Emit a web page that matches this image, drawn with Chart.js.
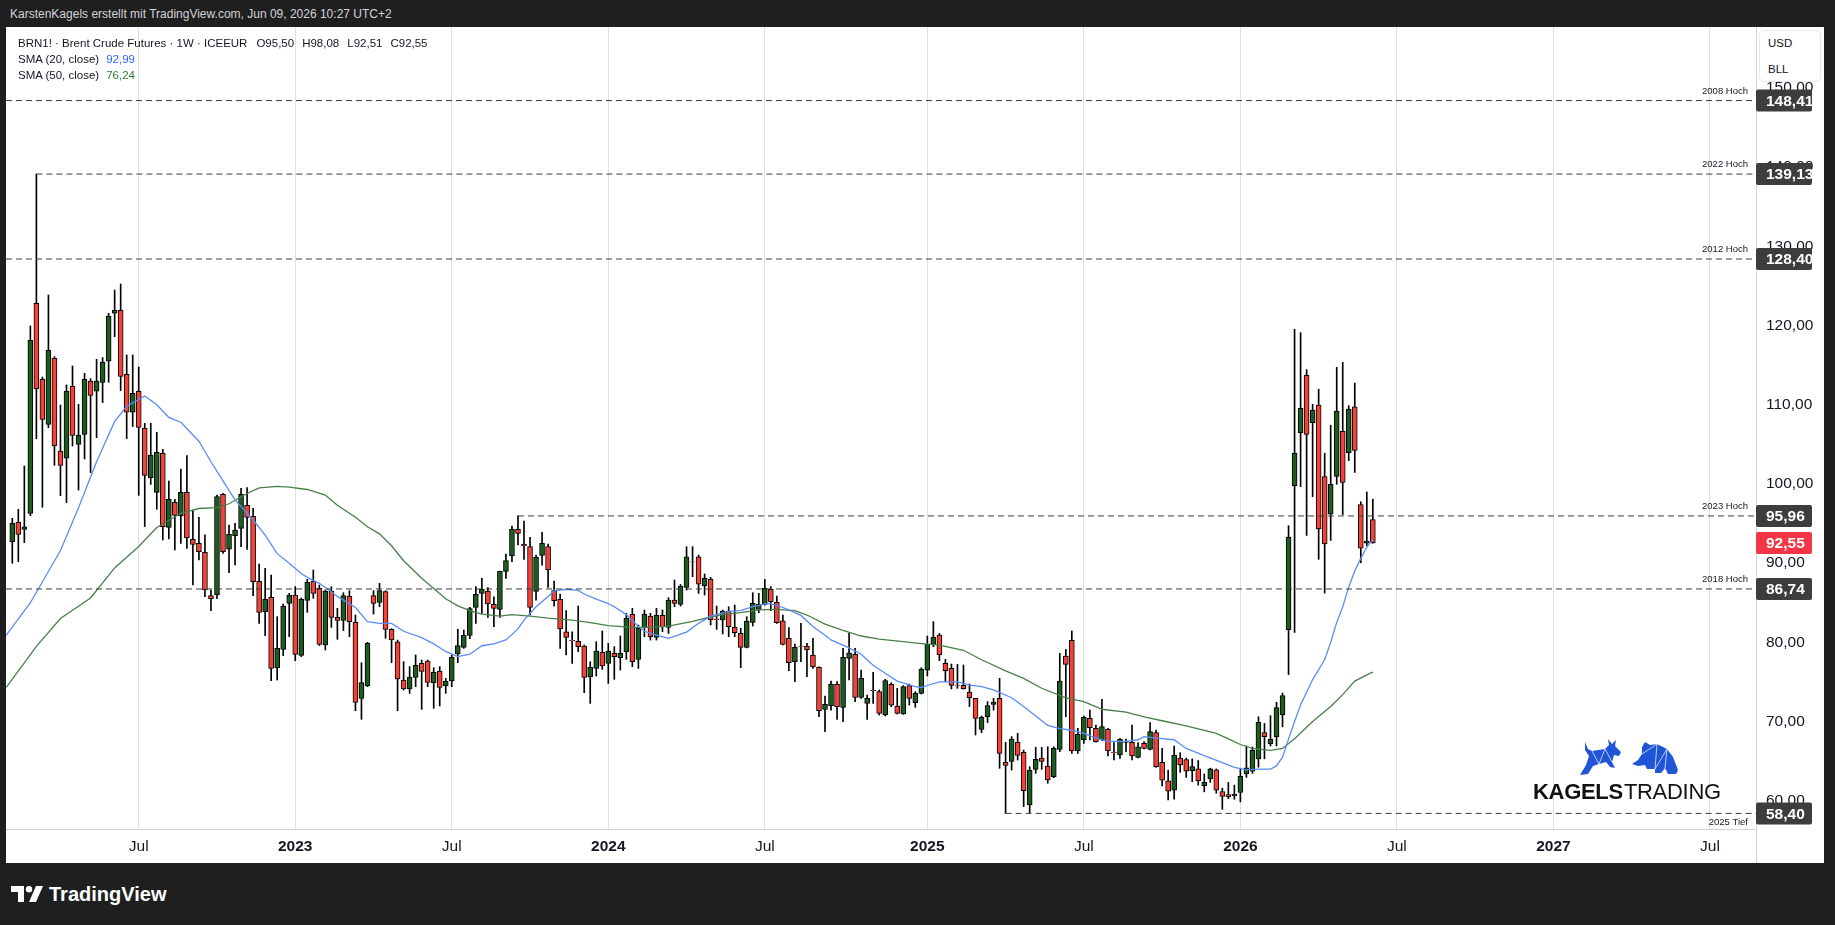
<!DOCTYPE html>
<html><head><meta charset="utf-8">
<script src="https://cdn.jsdelivr.net/npm/chart.js@4.4.1/dist/chart.umd.min.js"></script>
<style>
html,body{margin:0;padding:0;background:#1f1f1f;width:1835px;height:925px;overflow:hidden;font-family:"Liberation Sans",Arial,sans-serif;}
.abs{position:absolute;white-space:nowrap;}
#hdr{left:10px;top:6px;color:#d1d4dc;font-size:12px;line-height:16px;}
#panel{position:absolute;left:6px;top:27px;width:1818px;height:836px;background:#fff;}
#chart{position:absolute;left:0;top:0;}
.lg{left:18px;color:#131722;font-size:11.5px;line-height:16px;}
.lg span{margin-left:8px;}
#cur{left:1759px;top:30px;width:60px;height:50px;border:1px solid #e6e8ee;border-radius:5px;background:#fff;}
#cur div{position:absolute;left:8px;font-size:11.5px;color:#131722;}
#logo{left:1533px;top:781px;font-size:22px;line-height:22px;color:#111;letter-spacing:-0.3px;}
#tv{left:11px;top:884px;color:#fff;font-size:20px;font-weight:bold;line-height:20px;}
</style></head>
<body>
<div id="hdr" class="abs">KarstenKagels erstellt mit TradingView.com, Jun 09, 2026 10:27 UTC+2</div>
<div id="panel"><canvas id="chart" width="1818" height="836"></canvas></div>
<div id="lg1" class="abs lg" style="top:35px"></div>
<div id="lg2" class="abs lg" style="top:51px"></div>
<div id="lg3" class="abs lg" style="top:67px"></div>
<div id="cur" class="abs"><div style="top:6px">USD</div><div style="top:32px">BLL</div></div>
<svg class="abs" style="left:1578px;top:739px" width="46" height="37" viewBox="0 0 46 37">
<polygon fill="#1f55d6" points="2,36 8,26 11,17 7,11 7,3 10,10 14,12 27,10 31,6 30,0 34,5 38,1 37,7 43,13 41,17 36,16 34,23 37,29 32,28 28,23 21,25 15,27 10,35"/>
<polyline fill="none" stroke="#fff" stroke-width="0.7" points="14,12 21,25 27,10 34,23"/>
</svg>
<svg class="abs" style="left:1632px;top:741px" width="48" height="34" viewBox="0 0 48 34">
<polygon fill="#1f55d6" points="0,23 6,19 10,13 10,6 13,1 18,4 25,3 35,8 41,16 46,29 44,33 36,33 33,27 29,32 23,32 23,28 15,28 13,24 6,25"/>
<polyline fill="none" stroke="#fff" stroke-width="0.7" points="10,13 25,3 23,28 35,8 33,27"/>
</svg>
<div id="logo" class="abs"><b>KAGELS</b><span style="margin-left:1px">TRADING</span></div>
<div id="tv" class="abs"><svg width="33" height="17" viewBox="0 0 33 17" style="vertical-align:-2px;margin-right:5px"><path fill="#fff" d="M0 0H13V16H7V6H0Z"/><circle fill="#fff" cx="18" cy="3.2" r="3.2"/><path fill="#fff" d="M25 0H32L25 16H18Z"/></svg>TradingView</div>

<script>
// ---------- DATA ----------
const startWeek = "2022-02-07"; // bar 0, weekly bars
const opens = [92.71,95.16,94.27,96.29,122.81,113.21,107.53,115.86,104.16,103.24,
112.33,105.00,106.27,113.00,111.70,112.83,115.49,121.55,121.93,113.84,
109.05,111.70,107.07,100.80,98.94,103.87,94.52,97.68,95.96,98.94,
93.01,92.50,91.37,85.90,86.00,98.69,91.75,93.47,94.40,97.30,
95.91,87.70,83.87,85.68,76.80,79.12,84.92,85.98,78.36,85.30,
87.70,86.82,79.66,86.48,83.16,82.78,85.85,82.53,72.93,74.53,
85.89,85.05,86.40,81.64,80.08,75.24,74.11,75.58,77.35,77.64,
74.91,76.38,74.53,75.12,78.53,79.37,80.88,84.42,86.18,86.48,
84.80,84.16,88.96,90.90,94.27,92.41,92.08,86.44,90.98,92.08,
86.52,85.47,81.34,80.25,80.12,79.53,75.66,76.71,78.73,77.34,
78.61,78.06,78.82,83.53,77.85,81.85,83.32,80.63,83.41,81.89,
85.34,84.80,86.94,90.14,90.81,87.11,87.95,82.94,82.82,83.95,
81.89,81.13,79.37,82.52,84.17,84.80,86.69,85.05,82.73,80.50,
77.56,79.53,79.53,78.40,76.84,71.54,72.00,74.69,71.79,77.98,
78.48,73.05,72.29,73.94,73.77,70.82,74.69,71.96,70.95,74.53,
72.38,73.56,76.50,79.74,80.93,77.35,76.72,74.61,74.57,73.73,
72.93,69.01,70.61,72.17,72.93,64.85,64.97,67.37,66.11,59.46,
63.96,65.39,64.38,63.04,66.49,78.27,80.25,66.28,67.67,70.40,
69.14,67.67,69.01,66.15,65.77,67.37,67.37,65.48,67.25,66.49,
68.59,64.85,62.50,61.34,65.38,65.21,63.80,64.02,61.89,62.74,
63.89,61.17,60.78,60.61,61.04,63.38,63.72,65.29,68.61,67.21,
68.06,70.82,81.59,99.75,106.47,113.71,107.75,109.96,100.94,96.18,
100.94,106.64,103.96,109.75,97.41,92.52,95.50];
const highs = [95.66,96.80,102.27,119.95,139.13,113.50,123.86,116.07,109.97,112.50,
114.90,110.06,113.97,113.30,115.74,115.95,121.55,124.49,125.25,116.29,
116.29,114.77,107.66,107.66,106.52,104.37,100.37,98.06,101.89,103.57,
96.71,95.79,93.56,86.60,98.61,98.80,94.82,95.03,99.45,99.53,
96.92,89.89,89.34,88.50,83.24,84.84,86.19,87.03,85.60,87.96,
89.13,87.24,86.61,87.03,84.29,86.27,86.52,83.45,77.43,80.00,
86.52,87.45,86.52,81.73,80.29,77.56,76.93,78.40,77.77,77.77,
76.80,76.93,75.45,78.40,81.64,81.56,84.42,87.03,88.08,86.90,
85.76,89.00,91.15,94.69,95.96,95.32,93.26,91.02,93.89,92.41,
87.74,86.10,84.00,81.34,84.58,79.66,77.55,80.08,81.43,79.87,
79.45,80.80,83.66,84.29,82.19,84.08,83.66,84.29,84.08,85.64,
87.87,87.30,92.08,92.08,91.02,88.63,88.21,84.59,84.08,84.50,
84.71,81.77,83.24,86.27,86.19,87.95,87.03,85.85,83.45,81.85,
79.79,82.40,79.87,80.50,76.92,73.22,75.11,75.03,79.24,81.13,
79.24,76.50,73.35,76.21,73.98,75.33,74.90,74.19,74.53,74.74,
73.77,76.80,80.80,82.61,81.14,77.85,77.26,77.22,77.14,74.74,
72.93,70.70,72.51,72.93,75.45,67.37,68.09,68.51,66.40,64.30,
66.74,66.74,66.82,66.80,78.61,79.12,81.43,69.14,70.70,71.46,
69.56,72.80,69.14,67.33,67.88,67.79,69.56,67.33,67.46,69.86,
68.93,66.61,63.88,66.91,66.06,65.38,65.29,65.08,63.38,64.10,
64.02,61.59,62.31,61.97,64.10,66.91,66.78,70.61,69.76,70.74,
72.44,73.59,94.73,119.53,119.11,114.43,110.05,111.96,103.88,107.41,
114.73,115.36,109.88,112.73,97.75,98.99,98.08];
const lows = [89.98,90.19,92.59,96.00,105.72,97.05,107.11,102.35,98.52,97.64,
104.79,99.24,103.15,101.43,105.85,110.27,112.83,118.60,111.78,105.72,
107.24,98.56,94.61,99.95,96.80,92.92,93.05,91.66,92.50,91.87,
87.24,90.40,85.77,84.00,85.50,91.24,88.80,89.77,92.08,91.74,
85.89,82.40,80.84,75.16,75.24,78.32,80.72,77.68,78.20,83.79,
85.56,79.60,79.03,81.89,80.38,81.47,80.72,71.37,70.28,74.40,
83.58,84.50,80.51,77.43,71.37,73.98,73.56,74.40,71.54,74.40,
71.67,71.96,73.56,74.40,77.43,79.24,80.46,82.40,83.66,83.15,
81.97,83.15,88.08,90.18,92.29,90.48,83.45,85.34,89.76,86.94,
84.58,79.24,78.40,77.34,78.82,73.64,72.29,75.75,76.59,74.82,
75.33,76.50,77.85,76.92,76.71,80.71,80.29,80.29,81.34,81.13,
84.50,84.58,86.60,88.29,86.18,85.97,82.19,81.64,81.05,80.71,
80.71,76.80,79.30,82.06,83.74,84.70,84.00,82.40,79.66,76.42,
75.03,77.56,75.66,76.71,70.61,68.72,71.45,70.27,69.98,75.24,
72.50,72.93,70.27,72.29,70.82,70.70,71.87,70.95,70.90,72.08,
71.79,73.47,75.75,79.45,77.68,75.03,74.11,74.19,74.10,71.88,
68.30,68.59,69.86,71.45,64.09,58.40,63.88,65.14,59.25,58.49,
63.46,63.96,62.20,62.90,66.19,70.61,65.98,65.98,67.25,67.67,
67.40,67.58,65.65,65.14,65.35,66.19,65.14,65.40,66.53,66.40,
64.20,61.86,60.09,60.19,63.59,62.95,62.40,61.97,61.12,62.31,
60.95,58.91,60.27,60.19,59.85,62.95,63.46,64.23,65.29,66.91,
66.91,69.33,75.93,81.24,99.67,93.50,98.39,90.48,86.22,92.86,
99.96,96.13,102.94,101.45,90.05,92.18,92.51];
const closes = [95.03,93.64,94.57,118.14,112.03,108.16,116.87,104.79,102.35,111.74,
106.14,106.14,113.21,111.19,113.00,115.40,121.21,121.93,113.59,109.05,
111.44,107.15,101.09,103.66,104.00,94.61,98.06,96.04,98.94,93.22,
92.38,91.45,86.61,85.50,98.40,91.45,93.64,94.19,98.69,95.78,
87.66,83.79,85.43,76.72,79.24,84.59,85.98,78.48,85.43,87.58,
86.19,79.75,86.48,83.16,82.78,85.89,82.61,72.42,74.91,79.87,
84.92,86.52,81.64,80.29,75.37,74.11,75.58,77.10,76.34,74.95,
76.21,74.32,75.12,78.11,79.58,80.88,84.25,86.06,86.69,84.84,
84.29,88.96,90.31,94.27,93.76,92.16,84.42,90.73,92.50,89.13,
85.26,81.68,80.63,80.17,79.45,75.58,76.84,78.90,77.01,78.90,
78.19,78.61,83.03,77.55,81.76,83.53,80.71,83.41,81.97,85.34,
84.92,87.11,90.81,90.18,87.36,88.08,82.82,82.86,83.95,81.98,
81.22,79.37,82.69,84.92,84.80,86.82,85.13,82.48,79.74,77.43,
79.37,79.49,79.03,76.92,71.37,72.17,74.69,71.87,78.10,78.69,
73.05,75.45,72.93,73.89,71.03,75.16,72.08,71.03,74.40,72.93,
73.56,76.59,79.74,80.63,78.40,76.42,74.57,74.57,74.15,73.01,
70.40,70.53,72.00,72.47,65.98,64.47,67.79,65.73,61.27,63.88,
65.23,64.97,62.62,66.61,75.12,77.22,66.28,68.38,70.53,69.22,
67.46,69.35,66.28,66.07,67.75,67.46,65.65,66.82,66.61,68.72,
64.30,62.60,61.20,65.72,64.53,63.72,64.31,62.53,62.31,64.02,
61.34,60.53,60.48,60.82,63.08,64.14,66.36,69.89,68.10,67.76,
71.76,73.29,93.28,103.88,109.54,106.26,109.32,94.31,92.43,99.96,
109.20,100.18,109.45,104.22,91.88,92.78,92.55];

const sma20Bars = [-1,3,8,11,14,17,19,22,24,26,28,31,33,34,37,40,42,44,46,48,49,51,53,54,57,59,61,63,65,68,70,72,74,76,78,80,82,84,85,87,89,90,92,94,95,97,99,100,102,104,105,107,109,112,114,116,119,121,123,125,126,128,129,131,133,135,136,139,141,143,145,147,150,151,152,154,157,159,161,163,166,168,170,172,174,176,178,180,182,185,187,188,190,193,195,198,201,203,205,207,209,210,211,212,213,214,216,218,219,220,221,222,223,224,225,226];
const sma20Vals = [80.9,85.0,91.6,97.0,102.8,107.9,109.8,111.1,110.0,108.4,107.8,105.4,102.8,101.6,98.0,95.45,93.55,91.2,90.0,88.7,88.2,87.45,86.4,85.8,84.4,82.6,82.4,82.4,81.4,80.6,79.8,78.85,78.2,78.5,79.57,79.8,80.3,81.7,82.8,84.5,85.8,86.5,86.7,86.55,86.1,85.45,84.9,84.5,83.5,82.0,81.4,80.9,80.5,81.3,82.4,83.3,83.9,84.0,84.5,84.85,84.9,84.4,84.1,83.4,82.0,80.9,80.3,79.3,78.5,77.1,76.1,75.1,74.4,74.3,74.55,75.0,75.0,74.6,74.4,74.0,73.0,71.9,70.7,69.5,69.1,68.9,68.5,67.9,67.5,67.5,67.7,68.1,67.9,67.7,66.6,65.7,64.8,64.2,63.9,64.0,64.0,64.4,65.5,67.8,70.0,72.1,75.3,77.8,80.0,82.5,84.5,87.0,89.0,90.6,92.0,92.99];
const sma50Bars = [-1,4,8,13,17,21,24,28,31,34,36,39,41,44,46,49,52,54,57,59,61,63,65,68,70,72,74,76,78,81,83,86,89,93,96,99,103,106,109,113,116,118,121,124,127,130,132,135,138,141,144,148,151,154,158,161,165,168,171,175,178,181,185,188,191,195,200,202,204,206,209,211,213,216,219,221,223,225,226];
const sma50Vals = [74.3,79.5,83.0,85.6,89.4,92.1,94.5,96.3,96.9,97.0,97.5,98.8,99.5,99.7,99.6,99.3,98.6,97.3,95.8,94.6,93.7,92.2,90.3,88.1,86.8,85.5,84.6,84.0,83.55,83.3,83.5,83.3,83.05,82.8,82.5,82.1,81.9,81.9,82.06,82.65,83.2,83.5,83.75,84.1,84.17,84.0,83.45,82.3,81.5,80.8,80.4,80.1,79.85,79.65,79.0,77.8,76.4,75.45,74.2,73.0,72.5,71.55,71.2,70.6,70.1,69.46,68.5,67.8,67.1,66.6,66.36,66.6,67.84,70.0,71.9,73.4,75.1,75.9,76.24];

const xTickBars   = [21,47,73,99,125,152,178,204,230,256,282];
const xTickLabels = ["Jul","2023","Jul","2024","Jul","2025","Jul","2026","Jul","2027","Jul"];
const yTicks = [60,70,80,90,100,110,120,130,140,150];

const levelValues = [148.41,139.13,128.40,95.96,86.74,58.40];
const levelNames  = ["2008 Hoch","2022 Hoch","2012 Hoch","2023 Hoch","2018 Hoch","2025 Tief"];
const levelStartBars = [null,4,null,84,null,165]; // null = from left edge

// ---------- VIEW ----------
const X_MIN = -1.047, X_MAX = 289.65, Y_MIN = 56.43, Y_MAX = 157.70;
const FONT = '"Liberation Sans", Arial, sans-serif';
const UP = '#1d5b20', DOWN = '#f44336';
const fmt = v => v.toFixed(2).replace('.', ',');

const n = closes.length;
const last = n - 1;
document.getElementById('lg1').innerHTML = 'BRN1! · Brent Crude Futures · 1W · ICEEUR<span style="margin-left:9px">O' + fmt(opens[last]) + '</span><span>H' + fmt(highs[last]) + '</span><span>L' + fmt(lows[last]) + '</span><span>C' + fmt(closes[last]) + '</span>';
document.getElementById('lg2').innerHTML = 'SMA (20, close)<span style="margin-left:7px;color:#2962ff">' + fmt(sma20Vals[sma20Vals.length-1]) + '</span>';
document.getElementById('lg3').innerHTML = 'SMA (50, close)<span style="margin-left:7px;color:#2e7d32">' + fmt(sma50Vals[sma50Vals.length-1]) + '</span>';

const idx = closes.map((_, i) => i);
const wickData = idx.map(i => ({x: i, y: [lows[i], highs[i]]}));
const bodyData = idx.map(i => ({x: i, y: [opens[i], closes[i]]}));
const bodyColors = idx.map(i => closes[i] >= opens[i] ? UP : DOWN);

const datasets = [
  {type:'bar', label:'wick', data: wickData, backgroundColor:'#000', borderWidth:0, barThickness:1, grouped:false, order:3},
  {type:'bar', label:'body', data: bodyData, backgroundColor: bodyColors, borderColor:'#000', borderWidth:1, borderSkipped:false, barThickness:5, grouped:false, order:2},
  {type:'line', label:'SMA20', data: sma20Bars.map((b,k)=>({x:b, y:sma20Vals[k]})), borderColor:'#5b8cf5', borderWidth:1.3, pointRadius:0, tension:0, order:1},
  {type:'line', label:'SMA50', data: sma50Bars.map((b,k)=>({x:b, y:sma50Vals[k]})), borderColor:'#4a7f4a', borderWidth:1.3, pointRadius:0, tension:0, order:1}
];
levelValues.forEach((v, k) => {
  const s = levelStartBars[k] === null ? X_MIN : levelStartBars[k];
  datasets.push({type:'line', label: levelNames[k], data:[{x:s, y:v},{x:X_MAX, y:v}], borderColor:'#3c3c3c', borderWidth:1, borderDash:[6,4], pointRadius:0, order:0});
});

const overlay = {
  id:'overlay',
  afterDraw(chart){
    const {ctx, chartArea, scales:{y}} = chart;
    ctx.save();
    ctx.strokeStyle = '#cfd3da'; ctx.lineWidth = 1;
    ctx.beginPath(); ctx.moveTo(chartArea.right + 0.5, chartArea.bottom); ctx.lineTo(chartArea.right + 0.5, chart.height); ctx.stroke();
    const box = (py, col, txt) => {
      const x0 = chartArea.right, w = 56, h = 22;
      ctx.fillStyle = col;
      ctx.beginPath();
      if (ctx.roundRect) ctx.roundRect(x0, py - h/2, w, h, 2); else ctx.rect(x0, py - h/2, w, h);
      ctx.fill();
      ctx.fillStyle = '#fff'; ctx.font = 'bold 15.5px ' + FONT; ctx.textAlign = 'left'; ctx.textBaseline = 'middle';
      ctx.fillText(txt, x0 + 10, py + 1);
    };
    levelValues.forEach((v, k) => {
      const py = y.getPixelForValue(v);
      ctx.fillStyle = '#131722'; ctx.font = '9.5px ' + FONT; ctx.textAlign = 'right'; ctx.textBaseline = 'middle';
      const below = /Tief/.test(levelNames[k]);
      ctx.fillText(levelNames[k], chartArea.right - 8, py + (below ? 9 : -9.5));
      box(py, '#3d3d3d', fmt(v));
    });
    box(y.getPixelForValue(closes[last]), '#f23645', fmt(closes[last]));
    ctx.restore();
  }
};

new Chart(document.getElementById('chart'), {
  data: {datasets},
  options: {
    responsive:false, animation:false, devicePixelRatio:1,
    layout:{padding:0},
    plugins:{legend:{display:false}, tooltip:{enabled:false}},
    scales:{
      x:{type:'linear', min:X_MIN, max:X_MAX, offset:false,
        afterBuildTicks: s => { s.ticks = xTickBars.map(v => ({value:v})); },
        afterFit: s => { s.height = 34; s.paddingLeft = 0; s.paddingRight = 0; },
        ticks:{autoSkip:false, maxRotation:0, padding:8, color:'#131722',
          callback:(v, i) => xTickLabels[i],
          font: c => ({family:FONT, size:15.5, weight: /^\d{4}$/.test(xTickLabels[c.index] || '') ? 'bold' : 'normal'})},
        grid:{color:'#dde0e6', drawTicks:false, offset:false},
        border:{display:true, color:'#cfd3da'}
      },
      y:{type:'linear', position:'right', min:Y_MIN, max:Y_MAX,
        afterBuildTicks: s => { s.ticks = yTicks.map(v => ({value:v})); },
        afterFit: s => { s.width = 68; s.paddingTop = 0; s.paddingBottom = 0; },
        ticks:{padding:10, color:'#131722', font:{family:FONT, size:15.5}, callback: v => fmt(v)},
        grid:{display:false, drawTicks:false},
        border:{display:true, color:'#cfd3da'}
      }
    }
  },
  plugins:[overlay]
});
</script>
</body></html>
